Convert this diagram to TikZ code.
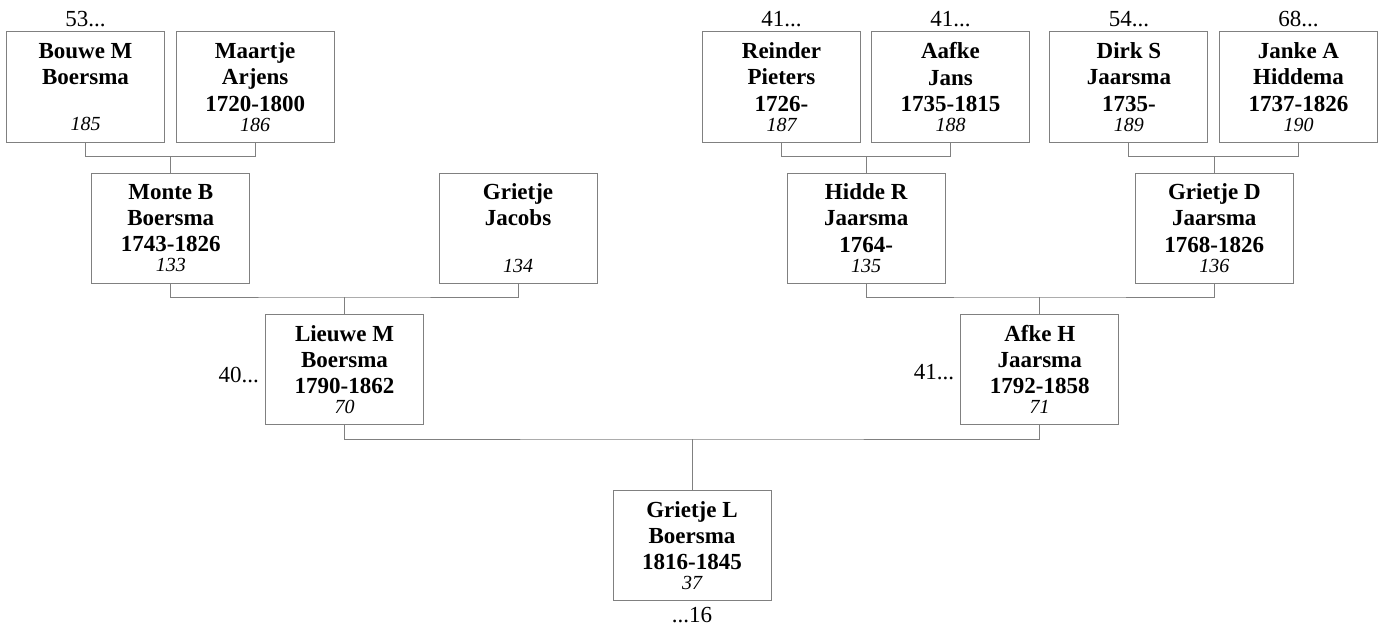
\documentclass[tikz,border=0pt]{standalone}
\usepackage{fontspec}
\setmainfont{Liberation Serif}
\usetikzlibrary{positioning}
\definecolor{boxgray}{RGB}{128,128,128}
\newcommand{\pno}[1]{\\[-6.2pt]{\fontsize{20}{24}\selectfont\mdseries\itshape #1}}

\begin{document}
\begin{tikzpicture}[
    x=1pt, y=-1pt,
    person/.style={draw=boxgray, line width=1pt, rectangle, minimum width=158pt, minimum height=110pt, inner sep=0pt, align=center, fill=white, font=\fontsize{23}{26.2}\selectfont\bfseries},
    link/.style={draw=boxgray, line width=1pt},
    more/.style={inner sep=2pt, font=\fontsize{23}{26}\selectfont}
]
    \useasboundingbox (0,0) rectangle (1380,626);

    % ================= GREAT-GRANDPARENTS =================
    \node[person] (BOUWE) at (85.5, 87) {Bouwe M\\Boersma\\~\pno{185}};
    \node[person] (MAARTJE) at (255.2, 87) {Maartje\\Arjens\\1720-1800\pno{186}};
    \node[person] (REINDER) at (781.5, 87) {Reinder\\Pieters\\1726-\pno{187}};
    \node[person] (AAFKE) at (950.5, 87) {Aafke\\Jans\\1735-1815\pno{188}};
    \node[person] (DIRK) at (1128.9, 87) {Dirk S\\Jaarsma\\1735-\pno{189}};
    \node[person] (JANKE) at (1298.5, 87) {Janke A\\Hiddema\\1737-1826\pno{190}};

    % ================= GRANDPARENTS =================
    \node[person] (MONTE) at (170.8, 228) {Monte B\\Boersma\\1743-1826\pno{133}};
    \node[person] (GRIETJE_J) at (518, 228) {Grietje\\Jacobs\\~\pno{134}};
    \node[person] (HIDDE) at (866.2, 228) {Hidde R\\Jaarsma\\1764-\pno{135}};
    \node[person] (GRIETJE_D) at (1214.3, 228) {Grietje D\\Jaarsma\\1768-1826\pno{136}};

    % ================= PARENTS =================
    \node[person] (LIEUWE) at (344.5, 369.5) {Lieuwe M\\Boersma\\1790-1862\pno{70}};
    \node[person] (AFKE) at (1039.7, 369.5) {Afke H\\Jaarsma\\1792-1858\pno{71}};

    % ================= CHILD =================
    \node[person] (GRIETJE_L) at (692, 545.5) {Grietje L\\Boersma\\1816-1845\pno{37}};

    % ================= CONTINUATION MARKS =================
    \node[more, above=2pt of BOUWE] (BOUWE_up) {53...};
    \node[more, above=2pt of REINDER] (REINDER_up) {41...};
    \node[more, above=2pt of AAFKE] (AAFKE_up) {41...};
    \node[more, above=2pt of DIRK] (DIRK_up) {54...};
    \node[more, above=2pt of JANKE] (JANKE_up) {68...};
    \node[more, left=4pt of LIEUWE, yshift=-6pt] (LIEUWE_left) {40...};
    \node[more, left=4pt of AFKE, yshift=-3pt] (AFKE_left) {41...};
    \node[more, below=4.5pt of GRIETJE_L] (GRIETJE_L_down) {...16};

    % ================= FAMILY LINKS =================
    \coordinate (J_MONTE) at ([yshift=16pt]MONTE.north);
    \coordinate (J_HIDDE) at ([yshift=16pt]HIDDE.north);
    \coordinate (J_GRIETJE_D) at ([yshift=16pt]GRIETJE_D.north);
    \coordinate (J_LIEUWE) at ([yshift=17pt]LIEUWE.north);
    \coordinate (J_AFKE) at ([yshift=17pt]AFKE.north);
    \coordinate (J_GRIETJE_L) at ([yshift=51pt]GRIETJE_L.north);

    % BOUWE + MAARTJE
    \draw[link] (BOUWE.south) |- (J_MONTE) -| (MAARTJE.south);
    \draw[link] (J_MONTE) -- (MONTE.north);

    % REINDER + AAFKE
    \draw[link] (REINDER.south) |- (J_HIDDE) -| (AAFKE.south);
    \draw[link] (J_HIDDE) -- (HIDDE.north);

    % DIRK + JANKE
    \draw[link] (DIRK.south) |- (J_GRIETJE_D) -| (JANKE.south);
    \draw[link] (J_GRIETJE_D) -- (GRIETJE_D.north);

    % MONTE + GRIETJE_J
    \draw[link] (MONTE.south) |- (J_LIEUWE) -| (GRIETJE_J.south);
    \draw[link] (J_LIEUWE) -- (LIEUWE.north);

    % HIDDE + GRIETJE_D
    \draw[link] (HIDDE.south) |- (J_AFKE) -| (GRIETJE_D.south);
    \draw[link] (J_AFKE) -- (AFKE.north);

    % LIEUWE + AFKE
    \draw[link] (LIEUWE.south) |- (J_GRIETJE_L) -| (AFKE.south);
    \draw[link] (J_GRIETJE_L) -- (GRIETJE_L.north);

\end{tikzpicture}
\end{document}
